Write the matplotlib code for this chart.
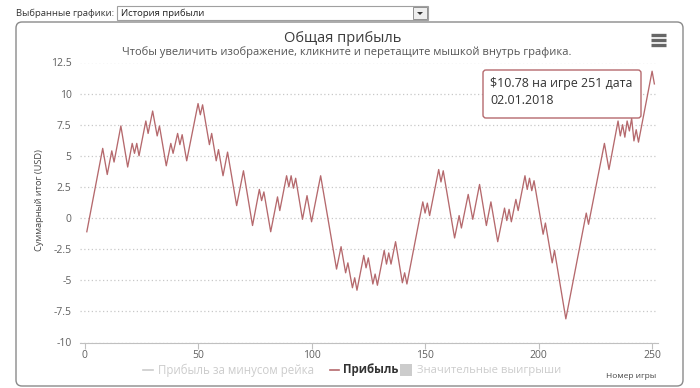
import matplotlib.pyplot as plt
from matplotlib.patches import FancyBboxPatch, Rectangle, Polygon
from matplotlib.lines import Line2D

# turning points of the cumulative profit line (game number, USD)
games = [1, 8, 10, 12, 13, 16, 19, 21, 22, 23, 24, 27, 28, 30, 32, 33, 36, 38, 39, 41,
         42, 43, 45, 50, 51, 52, 55, 56, 58, 59, 61, 63, 67, 70, 74, 77, 78, 79, 82, 85,
         86, 89, 90, 91, 92, 93, 96, 98, 100, 104, 111, 113, 115, 116, 118, 119, 120, 123, 124, 125,
         127, 128, 129, 132, 133, 134, 135, 137, 140, 141, 142, 149, 150, 151, 152, 156, 157, 158, 163, 165,
         166, 169, 171, 174, 177, 179, 182, 185, 186, 187, 188, 190, 191, 194, 195, 196, 197, 198, 202, 203,
         206, 207, 212, 221, 222, 229, 231, 235, 236, 237, 238, 239, 240, 241, 242, 243, 244, 250, 251]
profit = [-1.1, 5.6, 3.5, 5.4, 4.5, 7.4, 4.1, 6.0, 5.2, 6.0, 5.0, 7.8, 6.8, 8.6, 6.6, 7.4, 4.2, 6.0, 5.2, 6.8,
          5.9, 6.7, 4.6, 9.2, 8.3, 9.1, 5.9, 6.8, 4.6, 5.5, 3.4, 5.3, 1.0, 3.8, -0.6, 2.3, 1.4, 2.1, -1.1, 1.7,
          0.6, 3.4, 2.5, 3.4, 2.4, 3.2, -0.1, 1.8, -0.3, 3.4, -4.1, -2.3, -4.4, -3.6, -5.6, -4.8, -5.8, -3.0, -4.0, -3.2,
          -5.3, -4.5, -5.4, -2.6, -3.7, -2.8, -3.7, -1.9, -5.2, -4.4, -5.3, 1.3, 0.4, 1.2, 0.2, 3.9, 2.9, 3.8, -1.6, 0.2,
          -0.8, 1.9, -0.1, 2.7, -0.6, 1.3, -1.9, 0.8, -0.2, 0.7, -0.3, 1.5, 0.6, 3.4, 2.3, 3.2, 2.2, 3.0, -1.3, -0.4,
          -3.6, -2.6, -8.1, 0.4, -0.5, 6.0, 3.9, 7.8, 6.6, 7.5, 6.5, 7.8, 7.0, 8.0, 6.2, 7.1, 6.1, 11.8, 10.78]

y_ticks = [-10, -7.5, -5, -2.5, 0, 2.5, 5, 7.5, 10, 12.5]
y_labels = ['-10', '-7.5', '-5', '-2.5', '0', '2.5', '5', '7.5', '10', '12.5']
x_ticks = [0, 50, 100, 150, 200, 250]

W, H = 700, 388
LINE = '#b5696d'

plt.rcParams['font.family'] = ['Open Sans', 'DejaVu Sans']
fig = plt.figure(figsize=(W / 100, H / 100), dpi=100)

# pixel-space overlay axes (back and front)
back = fig.add_axes([0, 0, 1, 1], zorder=0)
front = fig.add_axes([0, 0, 1, 1], zorder=5)
for a in (back, front):
    a.set_xlim(0, W)
    a.set_ylim(H, 0)
    a.axis('off')
    a.patch.set_visible(False)

# page controls
back.text(16, 13, 'Выбранные графики:', fontsize=6.8, color='#333', va='center')
back.add_patch(Rectangle((117, 6), 311, 14, fc='white', ec='#a0a0a0', lw=0.8))
back.text(121, 13, 'История прибыли', fontsize=6.8, color='#222', va='center')
back.add_patch(Rectangle((413, 7), 14, 12, fc='#eeeeee', ec='#909090', lw=0.7))
back.add_patch(Polygon([(417, 12), (423, 12), (420, 15)], closed=True, fc='#333', ec='none'))

# chart frame
back.add_patch(FancyBboxPatch((16, 22), 667, 364, boxstyle='round,pad=0,rounding_size=6',
                              fc='white', ec='#8a8a8a', lw=1))

back.text(343, 38, 'Общая прибыль', fontsize=10.5, color='#3c3c3c', ha='center', va='center')
back.text(347, 52, 'Чтобы увеличить изображение, кликните и перетащите мышкой внутрь графика.',
          fontsize=8.0, color='#555', ha='center', va='center')
for yy in (35, 40, 45):
    back.add_line(Line2D([651, 666], [yy, yy], color='#666', lw=2.4, solid_capstyle='butt'))

back.text(40, 200, 'Суммарный итог (USD)', fontsize=6.7, color='#444', rotation=90,
          ha='center', va='center')

# plot area
px0, px1, py0, py1 = 80, 658, 62.5, 342.5
ax = fig.add_axes([px0 / W, 1 - py1 / H, (px1 - px0) / W, (py1 - py0) / H], zorder=2)
ax.patch.set_visible(False)
ax.set_xlim(-2.0, 252.6)
ax.set_ylim(-10, 12.5)
ax.set_yticks(y_ticks)
ax.set_yticklabels(y_labels)
ax.set_xticks(x_ticks)
ax.set_xticklabels([str(t) for t in x_ticks])
ax.yaxis.grid(True, linestyle=(0, (1, 2)), color='#c8c8c8', lw=0.9)
for s in ('top', 'right', 'left'):
    ax.spines[s].set_visible(False)
ax.spines['bottom'].set_color('#c0c0c0')
ax.tick_params(axis='y', length=0, pad=6, labelsize=7.5, labelcolor='#606060')
ax.tick_params(axis='x', length=4, width=0.8, color='#c0c0c0', pad=1.5, labelsize=7.5, labelcolor='#606060')
ax.plot(games, profit, color=LINE, lw=0.95)

# legend
back.add_line(Line2D([143, 153], [370, 370], color='#cccccc', lw=1.2))
back.text(158, 370, 'Прибыль за минусом рейка', fontsize=8.3, color='#cccccc', va='center')
back.add_line(Line2D([330, 339], [370, 370], color=LINE, lw=1.2))
back.text(343, 370, 'Прибыль', fontsize=8.3, color='#333', va='center', fontweight='bold')
back.add_patch(Rectangle((400, 364), 12, 12, fc='#cccccc', ec='none'))
back.text(417, 370, 'Значительные выигрыши', fontsize=8.1, color='#cccccc', va='center')
back.text(631, 377, 'Номер игры', fontsize=6, color='#444', ha='center', va='center')

# tooltip
front.add_patch(FancyBboxPatch((483, 70), 158, 48, boxstyle='round,pad=0,rounding_size=3',
                               fc='white', ec=LINE, lw=1))
front.text(490, 84, '$10.78 на игре 251 дата', fontsize=8.9, color='#333', va='center')
front.text(490, 101, '02.01.2018', fontsize=8.9, color='#333', va='center')

fig.savefig('out.png', dpi=100)
